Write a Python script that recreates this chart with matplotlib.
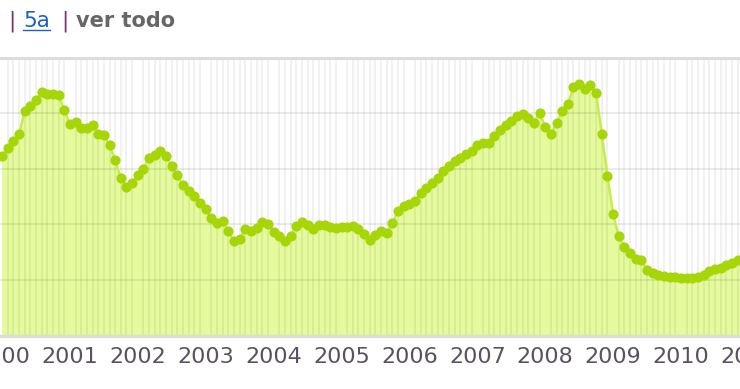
#!/usr/bin/env python3
# -*- coding: utf-8 -*-
import matplotlib

matplotlib.use("Agg")
import matplotlib.pyplot as plt
import numpy as np
from matplotlib.lines import Line2D
from matplotlib.ticker import FixedLocator, MultipleLocator

# Valores mensuales (ene..dic)
rate_2000 = [3.87, 4.05, 4.19, 4.34, 4.84, 4.95, 5.09, 5.26, 5.22, 5.22, 5.20, 4.86]
rate_2001 = [4.57, 4.61, 4.48, 4.48, 4.55, 4.34, 4.33, 4.12, 3.78, 3.40, 3.20, 3.29]
rate_2002 = [3.47, 3.60, 3.83, 3.89, 3.98, 3.87, 3.65, 3.46, 3.24, 3.11, 3.01, 2.86]
rate_2003 = [2.73, 2.54, 2.43, 2.47, 2.26, 2.03, 2.08, 2.29, 2.26, 2.32, 2.45, 2.41]
rate_2004 = [2.24, 2.14, 2.03, 2.14, 2.37, 2.45, 2.39, 2.29, 2.39, 2.39, 2.34, 2.32]
rate_2005 = [2.34, 2.34, 2.36, 2.29, 2.18, 2.07, 2.16, 2.25, 2.21, 2.43, 2.68, 2.79]
rate_2006 = [2.83, 2.90, 3.08, 3.19, 3.29, 3.40, 3.55, 3.65, 3.76, 3.83, 3.91, 3.98]
rate_2007 = [4.12, 4.16, 4.16, 4.30, 4.44, 4.55, 4.64, 4.73, 4.78, 4.70, 4.59, 4.81]
rate_2008 = [4.50, 4.34, 4.59, 4.84, 5.00, 5.36, 5.42, 5.31, 5.40, 5.24, 4.35, 3.45]
rate_2009 = [2.62, 2.14, 1.91, 1.78, 1.65, 1.62, 1.42, 1.35, 1.30, 1.28, 1.26, 1.26]
rate_2010 = [1.24, 1.24, 1.24, 1.26, 1.30, 1.39, 1.44, 1.45, 1.52, 1.57, 1.64, 1.66]

years = list(range(2000, 2012))
year_labels = [str(y) for y in years]
grid_values = [1.2, 2.4, 3.6, 4.8]

W, H = 740, 389
PX_YEAR = 67.9  # px por año
X0 = 2  # px de enero 2000


def px2year(p):
  return 2000 + (p - X0) / PX_YEAR


def __draw():
  rates = np.array(rate_2000 + rate_2001 + rate_2002 + rate_2003 + rate_2004 +
                   rate_2005 + rate_2006 + rate_2007 + rate_2008 + rate_2009 +
                   rate_2010)
  months = 2000 + np.arange(len(rates)) / 12.0

  fig = plt.figure(figsize=(W / 100, H / 100), dpi=100)
  left_px, right_px = -20, 780
  top_px, bottom_px = 57.5, 335.5
  ax = fig.add_axes([left_px / W, 1 - bottom_px / H,
                     (right_px - left_px) / W, (bottom_px - top_px) / H])
  ax.set_xlim(px2year(left_px), px2year(right_px))
  ax.set_ylim(0, 6)

  ax.fill_between(months, rates, 0, color="#e4fa9c", lw=0, zorder=1)
  ax.plot(months, rates, color="#c9ec4c", lw=1.8, zorder=3)
  ax.plot(months, rates, "o", color="#a6d608", ms=7.3, mec="none", zorder=4)

  ax.xaxis.set_major_locator(FixedLocator(years))
  ax.set_xticklabels(year_labels)
  ax.xaxis.set_minor_locator(MultipleLocator(1 / 12))
  ax.set_yticks(grid_values)
  ax.set_yticklabels([])
  ax.grid(True, which="minor", axis="x", color="black", alpha=0.06, lw=1.3)
  ax.grid(True, which="major", axis="y", color="black", alpha=0.08, lw=1.4)
  ax.grid(False, which="major", axis="x")
  ax.set_axisbelow(False)  # rejilla sobre el relleno, bajo la línea

  ax.axhline(6, color="#dcdcdc", lw=2.2, zorder=5, clip_on=False)
  ax.axhline(0, color="#dcdcdc", lw=2.4, zorder=5, clip_on=False)
  for s in ax.spines.values():
    s.set_visible(False)
  ax.tick_params(axis="both", which="both", length=0)
  ax.tick_params(axis="x", pad=8, labelsize=16, labelcolor="#5a5262")

  # cabecera
  fs = 15.5
  y_base = 1 - 27 / H
  fig.text(8 / W, y_base, "|", fontsize=fs, color="#7a2e6e", va="baseline")
  t5 = fig.text(23 / W, y_base, "5a", fontsize=fs, color="#1a5fc8",
                va="baseline")
  fig.text(61 / W, y_base, "|", fontsize=fs, color="#7a2e6e", va="baseline")
  fig.text(76 / W, y_base, "ver todo", fontsize=15, fontweight="bold",
           color="#666666", va="baseline")
  fig.canvas.draw()
  bb = t5.get_window_extent().transformed(fig.transFigure.inverted())
  uy = 1 - 30 / H
  fig.add_artist(Line2D([bb.x0, bb.x1], [uy, uy], color="#1a5fc8", lw=1,
                        transform=fig.transFigure))

  fig.savefig("out.png", dpi=100)


if __name__ == '__main__':
  __draw()
